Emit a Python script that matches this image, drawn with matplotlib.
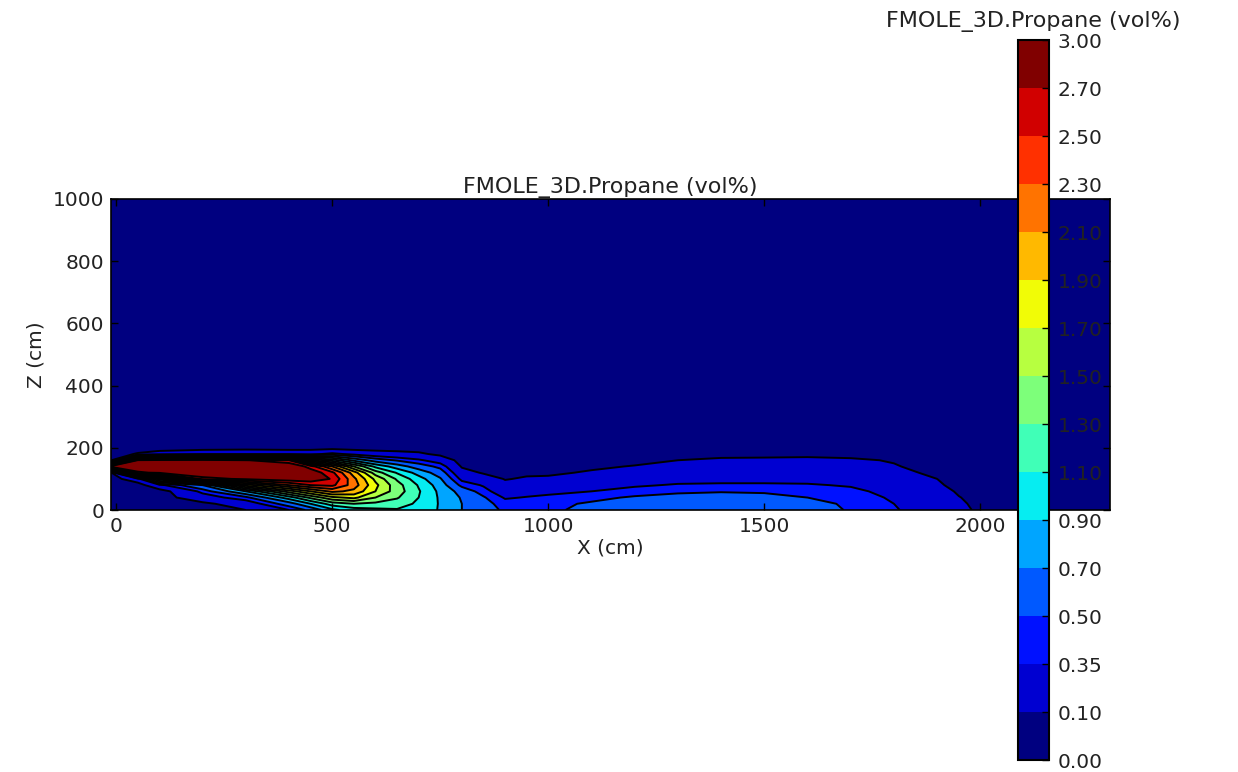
import numpy as np
import matplotlib
matplotlib.use("Agg")
import matplotlib.pyplot as plt

# Grid stations (cm)
x_nodes = [-12, 50, 100, 200, 300, 400, 450, 500, 550, 600, 650, 700, 750,
           800, 850, 900, 950, 1000, 1100, 1200, 1300, 1400, 1500, 1600,
           1700, 1800, 1900, 1950, 2000, 2100, 2300]
z_nodes = [0, 20, 40, 60, 80, 100, 120, 140, 160, 180, 200, 220, 1000]

# Propane concentration (vol%) profiles, one per x station, listed along z_nodes
profiles = [
    [0.00, 0.00, 0.00, 0.00, 0.00, 0.00, 0.05, 2.90, 0.05, 0.00, 0, 0, 0],
    [0.00, 0.00, 0.00, 0.00, 0.00, 0.25, 2.65, 2.95, 2.75, 0.12, 0, 0, 0],
    [0.00, 0.00, 0.00, 0.00, 0.30, 1.20, 2.75, 2.95, 2.80, 0.20, 0, 0, 0],
    [0.00, 0.05, 0.25, 0.40, 0.70, 2.60, 2.95, 2.98, 2.85, 0.30, 0, 0, 0],
    [0.10, 0.22, 0.45, 0.90, 1.80, 2.75, 2.98, 2.98, 2.72, 0.30, 0.02, 0, 0],
    [0.35, 0.60, 1.00, 1.60, 2.30, 2.85, 2.98, 2.95, 2.50, 0.30, 0, 0, 0],
    [0.55, 0.90, 1.35, 1.90, 2.50, 2.85, 2.85, 2.60, 1.50, 0.30, 0, 0, 0],
    [0.85, 1.20, 1.65, 2.15, 2.55, 2.68, 2.55, 2.10, 1.20, 0.40, 0.02, 0, 0],
    [1.00, 1.30, 1.75, 2.05, 2.20, 2.15, 2.00, 1.50, 0.85, 0.30, 0, 0, 0],
    [1.05, 1.25, 1.50, 1.70, 1.75, 1.65, 1.40, 1.05, 0.60, 0.22, 0, 0, 0],
    [1.08, 1.20, 1.32, 1.40, 1.38, 1.27, 1.08, 0.80, 0.48, 0.18, 0, 0, 0],
    [1.02, 1.06, 1.10, 1.12, 1.08, 0.98, 0.82, 0.60, 0.38, 0.14, 0, 0, 0],
    [0.88, 0.88, 0.87, 0.85, 0.80, 0.72, 0.60, 0.45, 0.25, 0.05, 0, 0, 0],
    [0.70, 0.70, 0.68, 0.62, 0.45, 0.30, 0.18, 0.08, 0.02, 0.00, 0, 0, 0],
    [0.58, 0.57, 0.52, 0.42, 0.33, 0.20, 0.08, 0.02, 0.00, 0.00, 0, 0, 0],
    [0.47, 0.42, 0.33, 0.22, 0.15, 0.09, 0.05, 0.01, 0.00, 0.00, 0, 0, 0],
    [0.45, 0.42, 0.36, 0.28, 0.19, 0.12, 0.07, 0.03, 0.00, 0.00, 0, 0, 0],
    [0.48, 0.46, 0.39, 0.30, 0.21, 0.13, 0.07, 0.03, 0.00, 0.00, 0, 0, 0],
    [0.53, 0.52, 0.46, 0.35, 0.25, 0.17, 0.12, 0.07, 0.02, 0.00, 0, 0, 0],
    [0.56, 0.55, 0.52, 0.43, 0.32, 0.23, 0.16, 0.11, 0.05, 0.00, 0, 0, 0],
    [0.57, 0.57, 0.54, 0.48, 0.37, 0.27, 0.19, 0.14, 0.10, 0.02, 0, 0, 0],
    [0.58, 0.58, 0.56, 0.49, 0.38, 0.28, 0.20, 0.15, 0.13, 0.05, 0, 0, 0],
    [0.58, 0.58, 0.55, 0.48, 0.38, 0.28, 0.20, 0.16, 0.13, 0.06, 0, 0, 0],
    [0.55, 0.54, 0.50, 0.45, 0.37, 0.28, 0.20, 0.16, 0.13, 0.07, 0, 0, 0],
    [0.49, 0.48, 0.45, 0.40, 0.33, 0.25, 0.18, 0.14, 0.12, 0.06, 0, 0, 0],
    [0.37, 0.35, 0.32, 0.28, 0.23, 0.18, 0.14, 0.11, 0.09, 0.03, 0, 0, 0],
    [0.22, 0.20, 0.18, 0.15, 0.12, 0.10, 0.07, 0.05, 0.03, 0.01, 0, 0, 0],
    [0.13, 0.12, 0.105, 0.085, 0.06, 0.04, 0.03, 0.02, 0.01, 0.00, 0, 0, 0],
    [0.08, 0.07, 0.06, 0.05, 0.04, 0.03, 0.02, 0.01, 0.00, 0.00, 0, 0, 0],
    [0.03, 0.03, 0.02, 0.02, 0.01, 0.01, 0.00, 0.00, 0.00, 0.00, 0, 0, 0],
    [0.00, 0.00, 0.00, 0.00, 0.00, 0.00, 0.00, 0.00, 0.00, 0.00, 0, 0, 0],
]

levels = [0.00, 0.10, 0.35, 0.50, 0.70, 0.90, 1.10, 1.30, 1.50, 1.70,
          1.90, 2.10, 2.30, 2.50, 2.70, 3.00]
level_labels = ["%.2f" % v for v in levels]
x_ticks = [0, 500, 1000, 1500, 2000]
z_ticks = [0, 200, 400, 600, 800, 1000]

title = "FMOLE_3D.Propane (vol%)"
x_label = "X (cm)"
z_label = "Z (cm)"

plt.rcParams["font.family"] = ["DejaVu Sans"]
text_color = "#222222"

X, Z = np.meshgrid(x_nodes, z_nodes)
C = np.array(profiles, dtype=float).T

jet = plt.get_cmap("jet")
nbands = len(levels) - 1
band_colors = [jet(i / (nbands - 1)) for i in range(nbands)]

fig = plt.figure(figsize=(12.38, 7.72), dpi=100)
ax = fig.add_axes([111 / 1238, 262 / 772, 999 / 1238, 311 / 772])

cs = ax.contourf(X, Z, C, levels=levels, colors=band_colors)
ax.contour(X, Z, C, levels=levels[1:-1], colors="k", linewidths=1.4)

ax.set_xlim(-12, 2300)
ax.set_ylim(0, 1000)
ax.set_xticks(x_ticks)
ax.set_yticks(z_ticks)
ax.tick_params(direction="in", top=True, right=True, length=5, width=1,
               labelsize=14.5, pad=5, labelcolor=text_color)
for s in ax.spines.values():
    s.set_linewidth(1.2)
ax.set_title(title, fontsize=16, pad=4, color=text_color)
ax.set_xlabel(x_label, fontsize=14.5, labelpad=2, color=text_color)
ax.set_ylabel(z_label, fontsize=14.5, labelpad=5, color=text_color)

cax = fig.add_axes([1018 / 1238, 12 / 772, 31 / 1238, 720 / 772])
cb = fig.colorbar(cs, cax=cax, ticks=levels)
cb.ax.set_yticklabels(level_labels)
cb.ax.tick_params(direction="in", length=5, width=1, labelsize=14.5, pad=6,
                  labelcolor=text_color)
cb.outline.set_linewidth(1.5)
cax.set_title(title, fontsize=16, pad=9, color=text_color)

fig.savefig("out.png", dpi=100)
